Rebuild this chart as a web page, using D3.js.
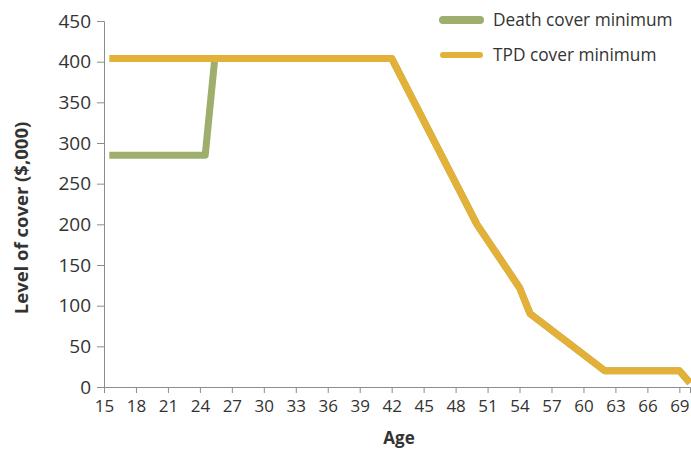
<!DOCTYPE html>
<html>
<head>
<meta charset="utf-8">
<script src="https://cdn.jsdelivr.net/npm/d3@7"></script>
<style>
  body { margin: 0; background: #fff; }
  text { font-family: "Open Sans", "Noto Sans", sans-serif; fill: #333; }
</style>
</head>
<body>
<div id="chart"></div>
<script>
// data
const deathAges   = [15.5, 24.5, 25.4, 42, 50, 54, 55, 62, 69, 70]
const deathValues = [285, 285, 404, 404, 200, 122, 90, 20, 20, 5]
const tpdAges     = [15.5, 42, 50, 54, 55, 62, 69, 70]
const tpdValues   = [404, 404, 200, 122, 90, 20, 20, 5]
const seriesNames = ["Death cover minimum", "TPD cover minimum"]
const seriesColors = ["#9dae6d", "#e3b137"]
const xTicks = d3.range(15, 70, 3)
const yTicks = d3.range(0, 451, 50)

// 1. dimensions
let dimensions = {
  width: 691,
  height: 451,
  margin: { top: 21, right: 1, bottom: 64, left: 104 },
}
dimensions.boundedWidth = dimensions.width - dimensions.margin.left - dimensions.margin.right
dimensions.boundedHeight = dimensions.height - dimensions.margin.top - dimensions.margin.bottom

// 2. canvas
const wrapper = d3.select("#chart")
  .append("svg")
    .attr("width", dimensions.width)
    .attr("height", dimensions.height)

const bounds = wrapper.append("g")
  .attr("transform", `translate(${dimensions.margin.left},${dimensions.margin.top})`)

// 3. scales
const xScale = d3.scaleLinear()
  .domain([15, 70])
  .range([0, dimensions.boundedWidth])

const yScale = d3.scaleLinear()
  .domain([0, 450])
  .range([dimensions.boundedHeight, 0])

// 4. axes
const axisColor = "#8c8c8c"

const xAxis = bounds.append("g")
  .attr("transform", `translate(0,${dimensions.boundedHeight})`)
  .call(d3.axisBottom(xScale).tickValues(xTicks).tickSizeOuter(0).tickSize(6).tickPadding(7))
xAxis.select(".domain").attr("stroke", axisColor)
xAxis.selectAll(".tick line").attr("stroke", axisColor)
xAxis.selectAll(".tick text")
  .style("font-size", "17px")
  .style("font-family", "'Open Sans', sans-serif")
  .attr("fill", "#333")

const yAxis = bounds.append("g")
  .call(d3.axisLeft(yScale).tickValues(yTicks).tickSizeOuter(0).tickSize(7).tickPadding(6))
yAxis.select(".domain").attr("stroke", axisColor)
yAxis.selectAll(".tick line").attr("stroke", axisColor)
yAxis.selectAll(".tick text")
  .style("font-size", "19px")
  .style("font-family", "'Open Sans', sans-serif")
  .attr("fill", "#333")

// axis titles
wrapper.append("text")
  .attr("x", 399)
  .attr("y", 444)
  .attr("text-anchor", "middle")
  .style("font-size", "17px")
  .style("font-weight", "bold")
  .text("Age")

wrapper.append("text")
  .attr("transform", "translate(28,218) rotate(-90)")
  .attr("text-anchor", "middle")
  .style("font-size", "18.5px")
  .style("font-weight", "bold")
  .text("Level of cover ($,000)")

// 5. lines
const lineGen = d3.line()
  .x(d => xScale(d[0]))
  .y(d => yScale(d[1]))

const series = [
  d3.zip(deathAges, deathValues),
  d3.zip(tpdAges, tpdValues),
]

bounds.selectAll("path.series")
  .data(series)
  .enter()
  .append("path")
    .attr("class", "series")
    .attr("d", lineGen)
    .attr("fill", "none")
    .attr("stroke", (d, i) => seriesColors[i])
    .attr("stroke-width", 7)
    .attr("stroke-linejoin", "round")

// 6. legend
const legend = wrapper.append("g")
  .attr("transform", "translate(440,20)")

const legendItem = legend.selectAll("g")
  .data(seriesNames)
  .enter()
  .append("g")
    .attr("transform", (d, i) => `translate(0,${i * 35})`)

legendItem.append("line")
  .attr("x1", 3).attr("x2", 40)
  .attr("stroke", (d, i) => seriesColors[i])
  .attr("stroke-width", (d, i) => i == 0 ? 8 : 6)
  .attr("stroke-linecap", "round")

legendItem.append("text")
  .attr("x", 53)
  .attr("y", 6)
  .style("font-size", "17.3px")
  .text(d => d)
</script>
</body>
</html>
